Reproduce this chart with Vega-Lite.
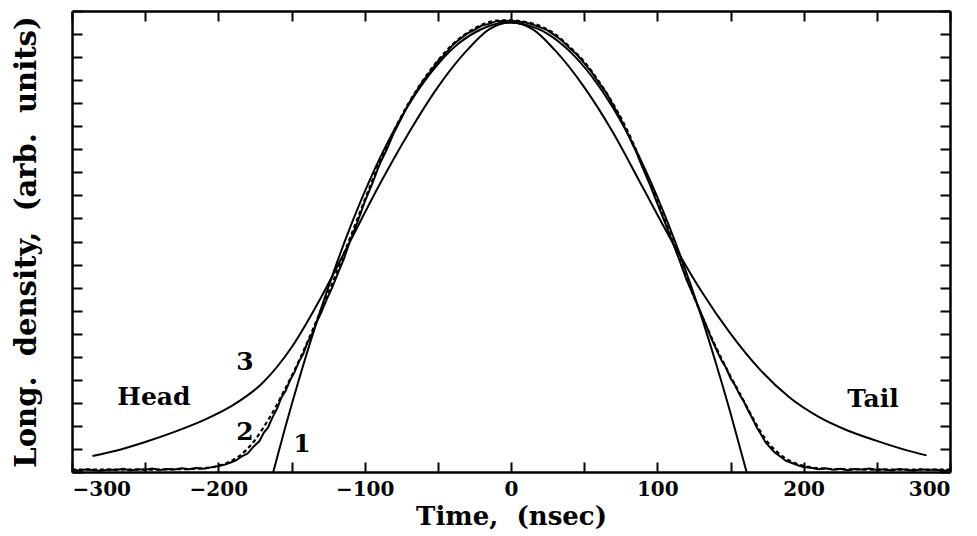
{
  "$schema": "https://vega.github.io/schema/vega-lite/v6.json",
  "width": 878,
  "height": 461,
  "autosize": "none",
  "padding": {"left": 72, "top": 11, "right": 27, "bottom": 64},
  "background": "white",
  "config": {
    "view": {"stroke": null},
    "axis": {
      "domainColor": "black", "domainWidth": 2.5, "tickColor": "black", "tickWidth": 2,
      "labelColor": "black", "titleColor": "black", "grid": false,
      "labelFont": "DejaVu Serif", "titleFont": "DejaVu Serif",
      "labelFontWeight": "bold", "titleFontWeight": "bold"
    }
  },
  "datasets": {
    "c1": [
      {"t": -162.5, "y": 0}, {"t": -155, "y": 1.77}, {"t": -145, "y": 3.99}, {"t": -135, "y": 6.07},
      {"t": -125, "y": 7.99}, {"t": -110, "y": 10.6}, {"t": -95, "y": 12.88}, {"t": -80, "y": 14.82},
      {"t": -65, "y": 16.42}, {"t": -50, "y": 17.69}, {"t": -35, "y": 18.63}, {"t": -20, "y": 19.22},
      {"t": -5, "y": 19.49}, {"t": 0, "y": 19.5}, {"t": 10, "y": 19.41}, {"t": 25, "y": 19.01},
      {"t": 40, "y": 18.26}, {"t": 55, "y": 17.18}, {"t": 70, "y": 15.77}, {"t": 85, "y": 14.02},
      {"t": 100, "y": 11.93}, {"t": 115, "y": 9.51}, {"t": 130, "y": 6.76}, {"t": 140, "y": 4.73},
      {"t": 150, "y": 2.56}, {"t": 161, "y": 0}
    ],
    "c2": [
      {"t": -300, "y": 0.10}, {"t": -295, "y": 0.06}, {"t": -290, "y": 0.12}, {"t": -285, "y": 0.08},
      {"t": -280, "y": 0.05}, {"t": -275, "y": 0.11}, {"t": -270, "y": 0.09}, {"t": -265, "y": 0.14},
      {"t": -260, "y": 0.07}, {"t": -255, "y": 0.12}, {"t": -250, "y": 0.10}, {"t": -245, "y": 0.15},
      {"t": -240, "y": 0.09}, {"t": -235, "y": 0.13}, {"t": -230, "y": 0.11}, {"t": -225, "y": 0.16},
      {"t": -220, "y": 0.12}, {"t": -215, "y": 0.17}, {"t": -210, "y": 0.14}, {"t": -205, "y": 0.20},
      {"t": -200, "y": 0.26}, {"t": -196, "y": 0.31}, {"t": -192, "y": 0.40}, {"t": -188, "y": 0.50},
      {"t": -184, "y": 0.68}, {"t": -180, "y": 0.80}, {"t": -176, "y": 1.10}, {"t": -172, "y": 1.33},
      {"t": -169, "y": 1.70}, {"t": -166, "y": 1.93}, {"t": -163, "y": 2.37}, {"t": -160, "y": 2.73},
      {"t": -157, "y": 3.22}, {"t": -154, "y": 3.52}, {"t": -151, "y": 3.98}, {"t": -148, "y": 4.32},
      {"t": -145, "y": 4.78}, {"t": -142, "y": 5.12}, {"t": -139, "y": 5.63}, {"t": -136, "y": 5.97},
      {"t": -133, "y": 6.48}, {"t": -130, "y": 6.87}, {"t": -126, "y": 7.48}, {"t": -122, "y": 8.03},
      {"t": -118, "y": 8.67}, {"t": -114, "y": 9.28}, {"t": -110, "y": 10.02}, {"t": -105, "y": 10.83},
      {"t": -100, "y": 11.72}, {"t": -95, "y": 12.48}, {"t": -90, "y": 13.32}, {"t": -85, "y": 13.98},
      {"t": -80, "y": 14.72}, {"t": -75, "y": 15.33}, {"t": -70, "y": 15.97}, {"t": -65, "y": 16.48},
      {"t": -60, "y": 16.97}, {"t": -55, "y": 17.38}, {"t": -50, "y": 17.82}, {"t": -45, "y": 18.13},
      {"t": -40, "y": 18.52}, {"t": -35, "y": 18.78}, {"t": -30, "y": 19.02}, {"t": -25, "y": 19.18},
      {"t": -20, "y": 19.37}, {"t": -15, "y": 19.44}, {"t": -10, "y": 19.56}, {"t": -5, "y": 19.57},
      {"t": 0, "y": 19.58}, {"t": 5, "y": 19.55}, {"t": 10, "y": 19.5}, {"t": 15, "y": 19.41},
      {"t": 20, "y": 19.29}, {"t": 25, "y": 19.16}, {"t": 30, "y": 18.94}, {"t": 35, "y": 18.71},
      {"t": 40, "y": 18.39}, {"t": 45, "y": 18.11}, {"t": 50, "y": 17.74}, {"t": 55, "y": 17.36},
      {"t": 60, "y": 16.89}, {"t": 65, "y": 16.46}, {"t": 70, "y": 15.89}, {"t": 75, "y": 15.31},
      {"t": 80, "y": 14.64}, {"t": 85, "y": 13.96}, {"t": 90, "y": 13.19}, {"t": 95, "y": 12.46},
      {"t": 100, "y": 11.64}, {"t": 105, "y": 10.86}, {"t": 110, "y": 10.04}, {"t": 115, "y": 9.21},
      {"t": 120, "y": 8.34}, {"t": 125, "y": 7.61}, {"t": 129, "y": 7.02}, {"t": 133, "y": 6.42},
      {"t": 137, "y": 5.78}, {"t": 141, "y": 5.22}, {"t": 144, "y": 4.83}, {"t": 147, "y": 4.52},
      {"t": 150, "y": 4.08}, {"t": 153, "y": 3.77}, {"t": 156, "y": 3.38}, {"t": 159, "y": 3.07},
      {"t": 162, "y": 2.68}, {"t": 165, "y": 2.32}, {"t": 168, "y": 1.93}, {"t": 171, "y": 1.62},
      {"t": 174, "y": 1.28}, {"t": 177, "y": 1.07}, {"t": 180, "y": 0.86}, {"t": 184, "y": 0.67},
      {"t": 188, "y": 0.48}, {"t": 192, "y": 0.39}, {"t": 196, "y": 0.29}, {"t": 200, "y": 0.22},
      {"t": 205, "y": 0.18}, {"t": 210, "y": 0.12}, {"t": 215, "y": 0.16}, {"t": 220, "y": 0.10},
      {"t": 225, "y": 0.14}, {"t": 230, "y": 0.08}, {"t": 235, "y": 0.13}, {"t": 240, "y": 0.11},
      {"t": 245, "y": 0.15}, {"t": 250, "y": 0.09}, {"t": 255, "y": 0.12}, {"t": 260, "y": 0.07},
      {"t": 265, "y": 0.13}, {"t": 270, "y": 0.10}, {"t": 275, "y": 0.06}, {"t": 280, "y": 0.12},
      {"t": 285, "y": 0.09}, {"t": 290, "y": 0.11}, {"t": 295, "y": 0.05}, {"t": 300, "y": 0.09}
    ],
    "c2fit": [
      {"t": -300, "y": 0.1}, {"t": -260, "y": 0.1}, {"t": -220, "y": 0.13}, {"t": -205, "y": 0.2},
      {"t": -198, "y": 0.3}, {"t": -192, "y": 0.45}, {"t": -186, "y": 0.68}, {"t": -181, "y": 0.95},
      {"t": -176, "y": 1.3}, {"t": -171, "y": 1.75}, {"t": -166, "y": 2.25}, {"t": -161, "y": 2.8},
      {"t": -156, "y": 3.4}, {"t": -150, "y": 4.15}, {"t": -144, "y": 4.95}, {"t": -138, "y": 5.8},
      {"t": -132, "y": 6.7}, {"t": -126, "y": 7.6}, {"t": -118, "y": 8.85}, {"t": -110, "y": 10.15},
      {"t": -100, "y": 11.8}, {"t": -90, "y": 13.4}, {"t": -80, "y": 14.8}, {"t": -70, "y": 16.0},
      {"t": -60, "y": 17.0}, {"t": -50, "y": 17.85}, {"t": -40, "y": 18.55}, {"t": -30, "y": 19.05},
      {"t": -20, "y": 19.4}, {"t": -10, "y": 19.58}, {"t": 0, "y": 19.6}, {"t": 10, "y": 19.52},
      {"t": 20, "y": 19.35}, {"t": 30, "y": 19.0}, {"t": 40, "y": 18.45}, {"t": 50, "y": 17.8},
      {"t": 60, "y": 16.95}, {"t": 70, "y": 15.95}, {"t": 80, "y": 14.75}, {"t": 90, "y": 13.3},
      {"t": 100, "y": 11.75}, {"t": 110, "y": 10.1}, {"t": 118, "y": 8.75}, {"t": 126, "y": 7.45},
      {"t": 132, "y": 6.55}, {"t": 138, "y": 5.7}, {"t": 144, "y": 4.9}, {"t": 150, "y": 4.15},
      {"t": 156, "y": 3.45}, {"t": 161, "y": 2.85}, {"t": 166, "y": 2.25}, {"t": 171, "y": 1.7},
      {"t": 176, "y": 1.25}, {"t": 181, "y": 0.92}, {"t": 186, "y": 0.66}, {"t": 192, "y": 0.44},
      {"t": 198, "y": 0.3}, {"t": 205, "y": 0.2}, {"t": 220, "y": 0.13}, {"t": 260, "y": 0.1},
      {"t": 300, "y": 0.1}
    ],
    "c3": [
      {"t": -286, "y": 0.69}, {"t": -270, "y": 0.92}, {"t": -250, "y": 1.3}, {"t": -230, "y": 1.74},
      {"t": -210, "y": 2.25}, {"t": -190, "y": 2.9}, {"t": -170, "y": 3.85}, {"t": -150, "y": 5.4},
      {"t": -130, "y": 7.55}, {"t": -110, "y": 10.0}, {"t": -90, "y": 12.45}, {"t": -70, "y": 14.7},
      {"t": -50, "y": 16.7}, {"t": -30, "y": 18.3}, {"t": -15, "y": 19.2}, {"t": 0, "y": 19.5},
      {"t": 15, "y": 19.2}, {"t": 30, "y": 18.3}, {"t": 50, "y": 16.7}, {"t": 70, "y": 14.7},
      {"t": 90, "y": 12.35}, {"t": 110, "y": 10.0}, {"t": 130, "y": 7.85}, {"t": 150, "y": 6.0},
      {"t": 170, "y": 4.45}, {"t": 190, "y": 3.25}, {"t": 210, "y": 2.4}, {"t": 230, "y": 1.8},
      {"t": 250, "y": 1.35}, {"t": 270, "y": 0.95}, {"t": 284, "y": 0.72}
    ],
    "labels": [
      {"t": -181.8, "y": 4.43, "label": "3"},
      {"t": -181.8, "y": 1.39, "label": "2"},
      {"t": -142.9, "y": 0.87, "label": "1"},
      {"t": -244, "y": 2.91, "label": "Head"},
      {"t": 247.4, "y": 2.83, "label": "Tail"}
    ]
  },
  "layer": [
    {
      "encoding": {
        "x": {"field": "t", "type": "quantitative", "scale": {"domain": [-300, 300], "nice": false},
          "axis": {"orient": "bottom", "values": [-300, -250, -200, -150, -100, -50, 0, 50, 100, 150, 200, 250, 300],
            "labelExpr": "datum.value % 100 === 0 ? datum.label : ''", "labelFontSize": 20,
            "tickSize": -10, "labelPadding": 17, "title": "Time,\u00a0 (nsec)", "titleFontSize": 26, "titlePadding": 4}},
        "y": {"field": "y", "type": "quantitative", "scale": {"domain": [0, 20], "nice": false},
          "axis": {"orient": "left", "values": [0, 1, 2, 3, 4, 5, 6, 7, 8, 9, 10, 11, 12, 13, 14, 15, 16, 17, 18, 19, 20],
            "labels": false, "tickSize": -10, "title": "Long.\u00a0 density,\u00a0 (arb.\u00a0 units)", "titleFontSize": 29, "titlePadding": 30}}
      },
      "layer": [
        {
          "data": {"name": "c3"},
          "mark": {"type": "line", "color": "black", "strokeWidth": 2, "interpolate": "monotone"}
        },
        {
          "data": {"name": "c1"},
          "mark": {"type": "line", "color": "black", "strokeWidth": 2, "interpolate": "monotone"}
        },
        {
          "data": {"name": "c2"},
          "mark": {"type": "line", "color": "black", "strokeWidth": 2}
        },
        {
          "data": {"name": "c2fit"},
          "mark": {"type": "line", "color": "black", "strokeWidth": 2.2, "strokeDash": [4, 3], "interpolate": "monotone"}
        },
        {
          "data": {"name": "labels"},
          "mark": {"type": "text", "color": "black", "font": "DejaVu Serif", "fontWeight": "bold", "fontSize": 25, "align": "center", "baseline": "alphabetic"},
          "encoding": {"text": {"field": "label"}}
        }
      ]
    },
    {
      "data": {"name": "c3"},
      "mark": {"type": "line", "opacity": 0},
      "encoding": {
        "x": {"field": "t", "type": "quantitative",
          "axis": {"orient": "top", "values": [-300, -250, -200, -150, -100, -50, 0, 50, 100, 150, 200, 250, 300], "labels": false, "tickSize": -10, "title": null}},
        "y": {"field": "y", "type": "quantitative",
          "axis": {"orient": "right", "values": [0, 1, 2, 3, 4, 5, 6, 7, 8, 9, 10, 11, 12, 13, 14, 15, 16, 17, 18, 19, 20], "labels": false, "tickSize": -10, "title": null}}
      }
    }
  ],
  "resolve": {"axis": {"x": "independent", "y": "independent"}}
}
